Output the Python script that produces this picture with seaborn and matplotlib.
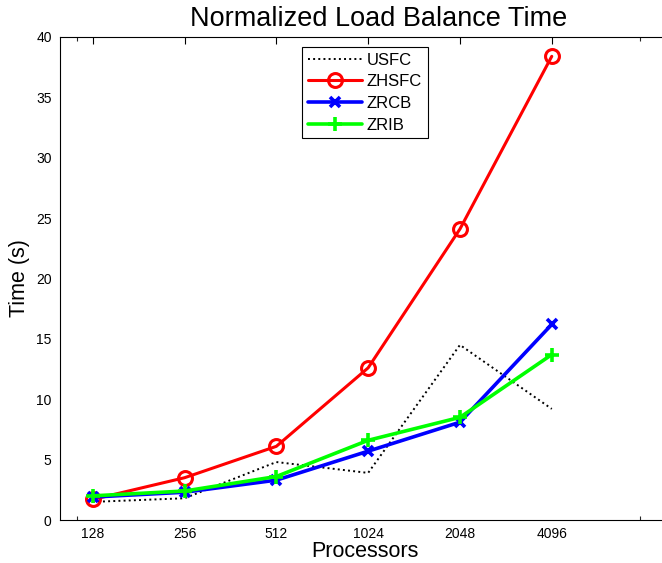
import matplotlib
matplotlib.use("Agg")
import matplotlib.pyplot as plt
import matplotlib.ticker as mticker
import numpy as np
import pandas as pd
import seaborn as sns

# data
processors = [128, 256, 512, 1024, 2048, 4096]
usfc = [1.5, 1.8, 4.8, 3.9, 14.5, 9.2]
zhsfc = [1.7, 3.5, 6.1, 12.6, 24.1, 38.4]
zrcb = [1.9, 2.3, 3.3, 5.7, 8.1, 16.2]
zrib = [2.0, 2.4, 3.6, 6.6, 8.5, 13.7]

series = {"USFC": usfc, "ZHSFC": zhsfc, "ZRCB": zrcb, "ZRIB": zrib}
df = pd.DataFrame([(p, v, name) for name, vals in series.items()
                   for p, v in zip(processors, vals)],
                  columns=["Processors", "Time", "Method"])

sns.set_style("white")
plt.rcParams["font.family"] = ["Liberation Sans", "DejaVu Sans"]
plt.rcParams["text.color"] = "black"
plt.rcParams["axes.labelcolor"] = "black"

fig = plt.figure(figsize=(6.62, 5.63), dpi=100)
# right edge of the axes lies just beyond the image, as in the reference
ax = fig.add_axes([60 / 662, 1 - 520 / 563, 610 / 662, 483 / 563])

styles = {
    "USFC": dict(color="black", linestyle=":", linewidth=1.4, marker=None),
    "ZHSFC": dict(color="#ff0000", linestyle="-", linewidth=2.2, marker="o",
                  markersize=10, markerfacecolor="none",
                  markeredgecolor="#ff0000", markeredgewidth=2.2),
    "ZRCB": dict(color="#0000ff", linestyle="-", linewidth=2.6, marker="x",
                 markersize=7, markeredgecolor="#0000ff", markeredgewidth=2.6),
    "ZRIB": dict(color="#00ff00", linestyle="-", linewidth=2.6, marker="+",
                 markersize=10, markeredgecolor="#00ff00", markeredgewidth=2.6),
}
for name in series:
    sub = df[df["Method"] == name]
    sns.lineplot(data=sub, x="Processors", y="Time", ax=ax, label=name,
                 **styles[name])

ax.set_xscale("log", base=2)
ax.set_xlim(100, 10000)
ax.set_ylim(0, 40)
ax.xaxis.set_major_locator(mticker.FixedLocator(processors))
ax.xaxis.set_major_formatter(mticker.FixedFormatter([str(p) for p in processors]))
ax.xaxis.set_minor_locator(mticker.FixedLocator([114, 8000]))
ax.xaxis.set_minor_formatter(mticker.NullFormatter())
ax.yaxis.set_major_locator(mticker.MultipleLocator(5))
ax.yaxis.set_minor_locator(mticker.NullLocator())

ax.tick_params(axis="both", which="major", direction="in", length=5, width=0.8,
               top=True, right=True, labelsize=10, pad=6, colors="black")
ax.tick_params(axis="x", which="major", pad=5)
ax.tick_params(axis="x", which="minor", direction="in", length=3, width=0.8,
               top=True, bottom=True)
for s in ax.spines.values():
    s.set_color("black")
    s.set_linewidth(0.8)

ax.set_title("Normalized Load Balance Time", fontsize=19.5, pad=8,
             color="black", x=(379 - 60) / 610)
ax.set_xlabel("Processors", fontsize=15.5, labelpad=0)
ax.set_ylabel("Time (s)", fontsize=15.5, labelpad=4)

leg = ax.legend(loc="upper center", bbox_to_anchor=(305 / 610, 0.99),
                fontsize=12, frameon=True, fancybox=False, framealpha=1,
                edgecolor="black", handlelength=3.2, borderpad=0.35,
                labelspacing=0.4, handletextpad=0.3, borderaxespad=0.3)
leg.get_frame().set_linewidth(0.8)

fig.savefig("out.png", dpi=100, facecolor="white")
